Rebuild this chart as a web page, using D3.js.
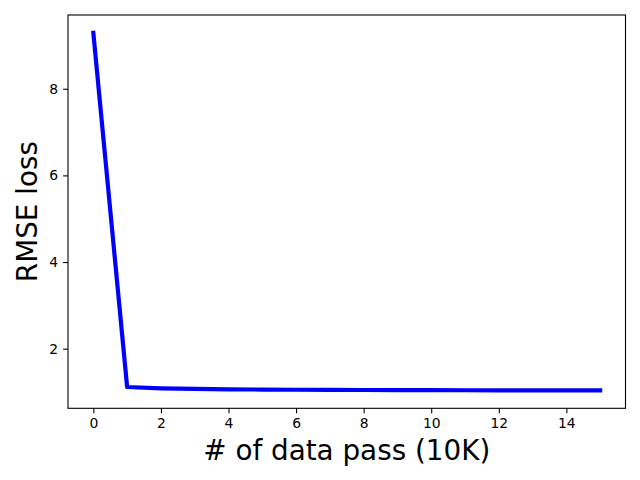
<!DOCTYPE html>
<html><head><meta charset="utf-8">
<script src="https://cdn.jsdelivr.net/npm/d3@7"></script>
<style>body{margin:0;background:#fff}svg{display:block}</style>
</head><body>
<script>
const passes = [0,1,2,3,4,5,6,7,8,9,10,11,12,13,14,15];
const rmse = [9.29,1.115,1.085,1.07,1.062,1.056,1.052,1.049,1.046,1.044,1.042,1.04,1.039,1.038,1.037,1.036];
const xTicks = [0,2,4,6,8,10,12,14];
const yTicks = [2,4,6,8];
const xLabel = "# of data pass (10K)";
const yLabel = "RMSE loss";

const W=640,H=480;
const m={left:68,right:625.5,top:15,bottom:408.3};
const svg=d3.select("body").append("svg").attr("width",W).attr("height",H);
const xr=d3.extent(passes), yr=d3.extent(rmse);
const xp=(xr[1]-xr[0])*0.05, yp=(yr[1]-yr[0])*0.05;
const x=d3.scaleLinear().domain([xr[0]-xp,xr[1]+xp]).range([m.left,m.right]);
const y=d3.scaleLinear().domain([yr[0]-yp,yr[1]+yp]).range([m.bottom,m.top]);
const font="DejaVu Sans";

svg.append("path").datum(passes.map((p,i)=>[p,rmse[i]]))
  .attr("d",d3.line().x(d=>x(d[0])).y(d=>y(d[1])))
  .attr("fill","none").attr("stroke","#0000ff").attr("stroke-width",4.2)
  .attr("stroke-linejoin","round").attr("stroke-linecap","square");

const xa=svg.append("g").attr("transform",`translate(0,${m.bottom})`)
  .call(d3.axisBottom(x).tickValues(xTicks).tickSize(4.9).tickPadding(4.9).tickFormat(d3.format("d")));
const ya=svg.append("g").attr("transform",`translate(${m.left},0)`)
  .call(d3.axisLeft(y).tickValues(yTicks).tickSize(4.9).tickPadding(4.9).tickFormat(d3.format("d")));
[xa,ya].forEach(a=>{a.select(".domain").remove();
  a.selectAll("line").attr("stroke","#000").attr("stroke-width",1.1);
  a.selectAll("text").attr("font-family",font).attr("font-size",13.9).attr("fill","#000");});

svg.append("rect").attr("x",m.left).attr("y",m.top).attr("width",m.right-m.left).attr("height",m.bottom-m.top)
  .attr("fill","none").attr("stroke","#000").attr("stroke-width",1.1);

svg.append("text").attr("x",(m.left+m.right)/2).attr("y",460)
  .attr("text-anchor","middle").attr("font-family",font).attr("font-size",27.8).attr("fill","#000").text(xLabel);
svg.append("text").attr("transform",`translate(37,${(m.top+m.bottom)/2}) rotate(-90)`)
  .attr("text-anchor","middle").attr("font-family",font).attr("font-size",27.8).attr("fill","#000").text(yLabel);
</script>
</body></html>
